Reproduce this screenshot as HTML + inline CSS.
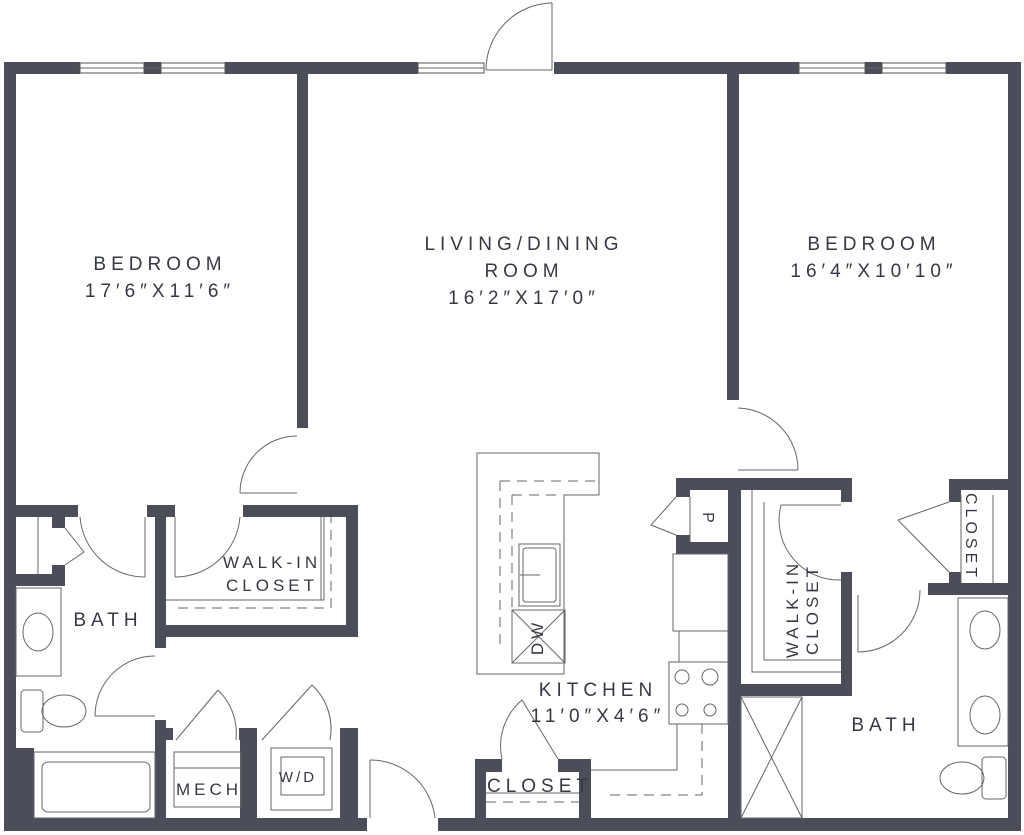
<!DOCTYPE html>
<html><head><meta charset="utf-8"><style>
html,body{margin:0;padding:0;background:#fff;}
svg{display:block;}
text{font-family:"Liberation Sans",sans-serif;fill:#363943;letter-spacing:5px;font-size:19px;text-anchor:middle;}
</style></head><body>
<svg width="1024" height="835" viewBox="0 0 1024 835" xmlns="http://www.w3.org/2000/svg">
<g fill="#4b4e58">
<rect x="4" y="62" width="76" height="12"/>
<rect x="144" y="62" width="17" height="12"/>
<rect x="225" y="62" width="193" height="12"/>
<rect x="554" y="62" width="245" height="12"/>
<rect x="865" y="62" width="17" height="12"/>
<rect x="946" y="62" width="75" height="12"/>
<rect x="4" y="62" width="12" height="769"/>
<rect x="1008" y="62" width="13" height="769"/>
<rect x="4" y="818" width="363" height="13"/>
<rect x="438" y="818" width="583" height="13"/>
<rect x="297" y="74" width="11" height="354"/>
<rect x="727" y="74" width="12" height="326"/>
<rect x="16" y="505" width="62" height="12"/>
<rect x="52" y="505" width="13" height="23"/>
<rect x="52" y="565" width="13" height="21"/>
<rect x="16" y="574" width="49" height="12"/>
<rect x="147" y="505" width="28" height="12"/>
<rect x="155" y="505" width="11" height="143"/>
<rect x="243" y="505" width="115" height="12"/>
<rect x="346" y="505" width="12" height="132"/>
<rect x="155" y="625" width="203" height="12"/>
<rect x="16" y="748" width="18" height="70"/>
<rect x="155" y="720" width="11" height="98"/>
<rect x="155" y="728" width="18" height="12"/>
<rect x="239" y="728" width="18" height="12"/>
<rect x="240" y="728" width="17" height="90"/>
<rect x="340" y="728" width="18" height="90"/>
<rect x="475" y="759" width="27" height="13"/>
<rect x="475" y="759" width="11" height="59"/>
<rect x="558" y="759" width="33" height="13"/>
<rect x="579" y="759" width="12" height="59"/>
<rect x="728" y="478" width="13" height="340"/>
<rect x="676" y="478" width="176" height="12"/>
<rect x="676" y="478" width="14" height="19"/>
<rect x="676" y="535" width="14" height="19"/>
<rect x="676" y="542" width="52" height="12"/>
<rect x="841" y="478" width="11" height="24"/>
<rect x="841" y="572" width="11" height="124"/>
<rect x="728" y="684" width="124" height="12"/>
<rect x="949" y="479" width="12" height="23"/>
<rect x="949" y="479" width="60" height="11"/>
<rect x="949" y="572" width="12" height="23"/>
<rect x="928" y="583" width="81" height="12"/>
</g>
<g fill="#fff" stroke="#555" stroke-width="1">
<rect x="80" y="63" width="64" height="10"/><rect x="161" y="63" width="64" height="10"/>
<rect x="418" y="63" width="66" height="10"/>
<rect x="799" y="63" width="66" height="10"/><rect x="882" y="63" width="64" height="10"/>
</g>
<g stroke="#666" stroke-width="1" fill="none">
<line x1="80" y1="68" x2="225" y2="68"/><line x1="418" y1="68" x2="484" y2="68"/><line x1="799" y1="68" x2="946" y2="68"/>
<path d="M552 70 V3 M552 3 A67 67 0 0 0 486 70 M486 70 H552"/>
<path d="M297 493 H240 M297 436 A57 57 0 0 0 240 493"/>
<path d="M175 517 V577 M175 577 A65 65 0 0 0 240 517"/>
<path d="M145 517 V577 M145 577 A65 65 0 0 1 80 517"/>
<path d="M155 716 H95 M95 716 A60 60 0 0 1 155 656"/>
<path d="M370 818 V760 M370 760 A65 65 0 0 1 435 818"/>
<path d="M738 470 H798 M798 470 A62 62 0 0 0 738 408"/>
<path d="M841 505 H781 M781 505 A60 60 0 0 0 841 580"/>
<path d="M858 595 V652 M858 652 A62 62 0 0 0 920 590"/>
<path d="M176 740 L218 690 M218 690 A60 60 0 0 1 236 740"/>
<path d="M262 740 L312 685 M312 685 A60 60 0 0 1 330 740"/>
<path d="M676 497 L651 525 L676 535"/>
<path d="M949 502 L898 520 M898 520 L949 572"/>
<path d="M65 528 L84 552 L65 565"/>
<path d="M502 759 A60 60 0 0 1 522 700 L558 759"/>
<path d="M477 453 H599 V495 H564 V674 H477 Z"/>
<rect x="519" y="544" width="41" height="62"/><rect x="523" y="548" width="33" height="54" rx="3"/>
<line x1="520" y1="575" x2="540" y2="575"/>
<rect x="512" y="610" width="53" height="53"/><path d="M512 610 L565 663 M565 610 L512 663"/>
<path d="M500 481 H598 M500 481 V645 M512 495 H560 M512 495 V610" stroke-dasharray="10 7"/>
<rect x="673" y="554" width="55" height="77"/>
<rect x="679" y="631" width="49" height="31"/>
<rect x="669" y="662" width="59" height="62"/>
<circle cx="682" cy="677" r="7"/><circle cx="710" cy="677" r="8"/><circle cx="682" cy="710" r="6"/><circle cx="710" cy="710" r="6"/>
<path d="M677 724 V770 H591"/>
<path d="M702 724 V795 H603" stroke-dasharray="10 7"/>
<rect x="741" y="697" width="61" height="121"/><path d="M741 697 L802 818 M802 697 L741 818"/>
<rect x="958" y="598" width="50" height="148"/>
<ellipse cx="985" cy="630" rx="15" ry="19"/><ellipse cx="985" cy="715" rx="15" ry="19"/>
<rect x="982" y="757" width="24" height="42" rx="4"/><ellipse cx="962" cy="778" rx="22" ry="16"/>
<rect x="16" y="588" width="45" height="88"/><ellipse cx="38" cy="632" rx="15" ry="19"/>
<rect x="21" y="690" width="22" height="42" rx="4"/><ellipse cx="64" cy="711" rx="22" ry="16"/>
<rect x="34" y="752" width="121" height="66"/><rect x="42" y="762" width="108" height="50" rx="6"/>
<rect x="174" y="752" width="67" height="55"/><line x1="174" y1="768" x2="241" y2="768"/>
<rect x="271" y="748" width="61" height="62"/><rect x="281" y="757" width="43" height="38"/>
<path d="M166 600 H324 V517 M321 517 V600" />
<path d="M178 608 H331 V517" stroke-dasharray="10 7"/>
<path d="M486 793 H579"/><path d="M486 802 H579" stroke-dasharray="10 7"/>
<path d="M752 490 V672 H841 M764 502 V660 H841"/>
<path d="M752 490 V672" stroke-dasharray="10 7"/>
<path d="M690 497 V542"/>
<path d="M961 495 V583 M993 495 V583"/>
<path d="M38 517 V574"/>
</g>
<text x="160" y="270">BEDROOM</text>
<text x="160" y="297">17′6″X11′6″</text>
<text x="524" y="250">LIVING/DINING</text>
<text x="524" y="277">ROOM</text>
<text x="524" y="304">16′2″X17′0″</text>
<text x="874" y="250">BEDROOM</text>
<text x="874" y="277">16′4″X10′10″</text>
<text x="272" y="568" style="font-size:17px;letter-spacing:4px">WALK-IN</text>
<text x="272" y="591" style="font-size:17px;letter-spacing:4px">CLOSET</text>
<text x="108" y="626">BATH</text>
<text x="209" y="795" style="font-size:17px;letter-spacing:4px">MECH</text>
<text x="298" y="782" style="font-size:15px;letter-spacing:3px">W/D</text>
<text x="598" y="696">KITCHEN</text>
<text x="598" y="722">11′0″X4′6″</text>
<text x="540" y="792">CLOSET</text>
<text x="886" y="731">BATH</text>
<text transform="translate(798,609) rotate(-90)" style="font-size:17px;letter-spacing:4px">WALK-IN</text>
<text transform="translate(818,609) rotate(-90)" style="font-size:17px;letter-spacing:4px">CLOSET</text>
<text transform="translate(966,537) rotate(90)" style="font-size:16px;letter-spacing:4px">CLOSET</text>
<text transform="translate(703,520) rotate(90)" style="font-size:16px">P</text>
<text transform="translate(543,637) rotate(-90)" style="font-size:17px;letter-spacing:4px">DW</text>
</svg>
</body></html>
